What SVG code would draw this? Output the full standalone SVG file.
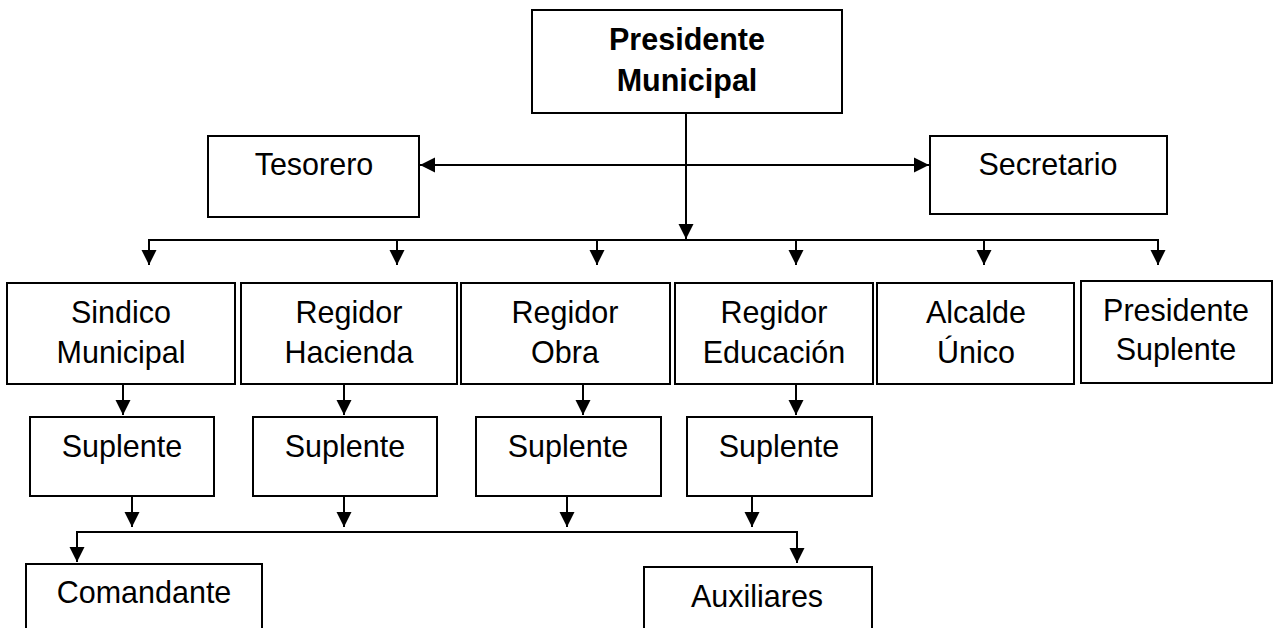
<svg xmlns="http://www.w3.org/2000/svg" width="1273" height="628" viewBox="0 0 1273 628">
<style>
.box{fill:#fff;stroke:#000;stroke-width:2}
.t{font-family:"Liberation Sans",Arial,sans-serif;font-size:30.5px;fill:#000;text-anchor:middle}
.b{font-weight:bold}
.c{fill:none;stroke:#000;stroke-width:2}
</style>
<defs>
<marker id="ah" markerUnits="userSpaceOnUse" markerWidth="16" markerHeight="16" viewBox="0 0 16 16" refX="15" refY="8" orient="auto-start-reverse">
<path d="M0,0.5 L15,8 L0,15.5 Z" fill="#000"/>
</marker>
</defs>
<rect width="1273" height="628" fill="#fff"/>
<g id="connectors">
<path class="c" d="M686,113 V239" marker-end="url(#ah)"/>
<path class="c" d="M420,165 H929" marker-start="url(#ah)" marker-end="url(#ah)"/>
<path class="c" d="M149,265 V240 H1158 V265" marker-start="url(#ah)" marker-end="url(#ah)"/>
<path class="c" d="M397,240 V265" marker-end="url(#ah)"/>
<path class="c" d="M597,240 V265" marker-end="url(#ah)"/>
<path class="c" d="M796,240 V265" marker-end="url(#ah)"/>
<path class="c" d="M984,240 V265" marker-end="url(#ah)"/>
<path class="c" d="M123,385 V415" marker-end="url(#ah)"/>
<path class="c" d="M344,385 V415" marker-end="url(#ah)"/>
<path class="c" d="M583,385 V415" marker-end="url(#ah)"/>
<path class="c" d="M796,385 V415" marker-end="url(#ah)"/>
<path class="c" d="M132,496 V527" marker-end="url(#ah)"/>
<path class="c" d="M344,496 V527" marker-end="url(#ah)"/>
<path class="c" d="M567,496 V527" marker-end="url(#ah)"/>
<path class="c" d="M752,496 V527" marker-end="url(#ah)"/>
<path class="c" d="M77,562 V532 H797 V563" marker-start="url(#ah)" marker-end="url(#ah)"/>
</g>
<g id="presidente">
<rect class="box" x="532" y="10" width="310" height="103"/>
<text class="t b" x="687" y="50">Presidente</text>
<text class="t b" x="687" y="91">Municipal</text>
</g>
<g id="tesorero">
<rect class="box" x="208" y="136" width="211" height="81"/>
<text class="t" x="314" y="175">Tesorero</text>
</g>
<g id="secretario">
<rect class="box" x="930" y="136" width="237" height="78"/>
<text class="t" x="1048" y="175">Secretario</text>
</g>
<g id="sindico">
<rect class="box" x="7" y="283" width="228" height="101"/>
<text class="t" x="121" y="323">Sindico</text>
<text class="t" x="121" y="363">Municipal</text>
</g>
<g id="regidor-hacienda">
<rect class="box" x="241" y="283" width="216" height="101"/>
<text class="t" x="349" y="323">Regidor</text>
<text class="t" x="349" y="363">Hacienda</text>
</g>
<g id="regidor-obra">
<rect class="box" x="461" y="283" width="209" height="101"/>
<text class="t" x="565" y="323">Regidor</text>
<text class="t" x="565" y="363">Obra</text>
</g>
<g id="regidor-educacion">
<rect class="box" x="675" y="283" width="198" height="101"/>
<text class="t" x="774" y="323">Regidor</text>
<text class="t" x="774" y="363">Educación</text>
</g>
<g id="alcalde">
<rect class="box" x="877" y="283" width="197" height="101"/>
<text class="t" x="976" y="323">Alcalde</text>
<text class="t" x="976" y="363">Único</text>
</g>
<g id="presidente-suplente">
<rect class="box" x="1081" y="281" width="191" height="102"/>
<text class="t" x="1176" y="321">Presidente</text>
<text class="t" x="1176" y="360">Suplente</text>
</g>
<g id="suplente-1">
<rect class="box" x="30" y="417" width="184" height="79"/>
<text class="t" x="122" y="457">Suplente</text>
</g>
<g id="suplente-2">
<rect class="box" x="253" y="417" width="184" height="79"/>
<text class="t" x="345" y="457">Suplente</text>
</g>
<g id="suplente-3">
<rect class="box" x="476" y="417" width="185" height="79"/>
<text class="t" x="568" y="457">Suplente</text>
</g>
<g id="suplente-4">
<rect class="box" x="687" y="417" width="185" height="79"/>
<text class="t" x="779" y="457">Suplente</text>
</g>
<g id="comandante">
<rect class="box" x="26" y="564" width="236" height="80"/>
<text class="t" x="144" y="603">Comandante</text>
</g>
<g id="auxiliares">
<rect class="box" x="644" y="567" width="228" height="80"/>
<text class="t" x="757" y="607">Auxiliares</text>
</g>
</svg>
